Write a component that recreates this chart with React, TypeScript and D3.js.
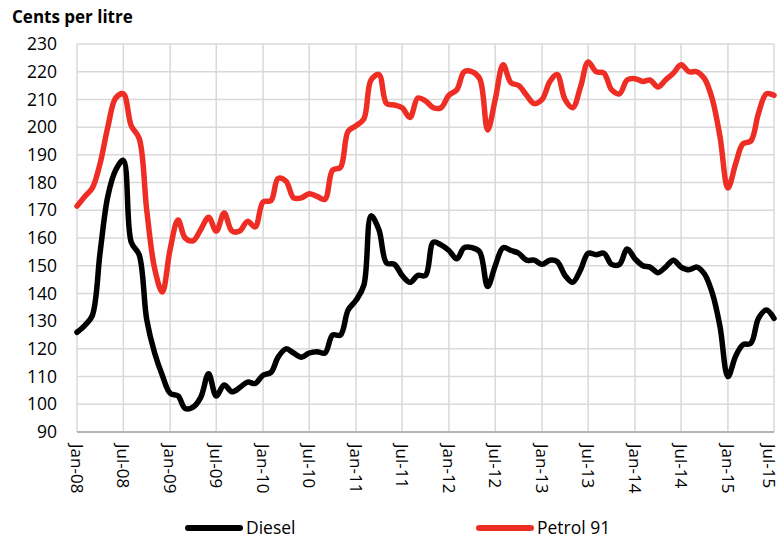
import React, { useEffect, useRef } from "react";
import * as d3 from "d3";

// monthly averages, Jan-08 .. Jul-15 (cents per litre)
const diesel = [
  126, 128.5, 132, 155, 175, 184.5, 188, 158.5, 154, 130.5, 118.5, 110.5,
  104, 103, 98.5, 99, 102.5, 111, 103, 107, 104.5, 106, 108, 107.5,
  110.5, 111.5, 117, 120, 118.5, 117, 118.5, 119, 118.5, 125, 125, 134,
  137.5, 143, 168, 163, 151, 150.5, 146.5, 144, 146.5, 146.5, 158.5, 157.5,
  155.5, 152.5, 156.5, 156.5, 155, 142.5, 150, 156.5, 155.5, 154.5, 152, 152,
  150.5, 152, 151.5, 146.5, 144, 148.5, 154.5, 154, 154.5, 150.5, 150.5, 156,
  152.5, 150, 149.5, 147.5, 149.5, 152, 149.5, 148.5, 149.5, 147, 140, 128,
  110, 117.5, 121.5, 122, 131, 134, 131
];
const petrol91 = [
  171.5, 175, 178, 187, 200, 210.5, 212, 200.5, 196, 170, 149, 140.5,
  156, 166.5, 160, 159, 163, 167.5, 162.5, 169, 162.5, 162.5, 166, 164,
  173, 173.5, 181.5, 180.5, 174.5, 174.5, 176, 175, 174, 184.5, 185.5, 198.5,
  200.5, 203, 217, 219, 208.5, 208, 207, 203.5, 210.5, 209.5, 207, 207,
  211.5, 213.5, 220, 220, 217.5, 199, 210, 222.5, 216, 215, 211.5, 208.5,
  210, 216.5, 219, 210, 207, 214.5, 223.5, 220, 219.5, 213.5, 212, 217,
  217.5, 216.5, 217, 214.5, 217, 219.5, 222.5, 220, 220, 217.5, 210, 196.5,
  178, 187, 194, 195, 205, 212, 211.5
];
const xTickLabels = [
  "Jan-08", "Jul-08", "Jan-09", "Jul-09", "Jan-10", "Jul-10", "Jan-11", "Jul-11",
  "Jan-12", "Jul-12", "Jan-13", "Jul-13", "Jan-14", "Jul-14", "Jan-15", "Jul-15"
];
const yTicks = [90, 100, 110, 120, 130, 140, 150, 160, 170, 180, 190, 200, 210, 220, 230];
const seriesNames = ["Diesel", "Petrol 91"];
const seriesColors = ["#000000", "#ee2e24"];

const months = d3.timeMonth.range(new Date(2008, 0, 1), new Date(2015, 7, 1));

export default function App() {
  const svgRef = useRef<SVGSVGElement>(null);

  useEffect(() => {
    const width = 781, height = 539;
    const margin = { top: 44, right: 7, bottom: 107, left: 77 };
    const svg = d3.select(svgRef.current);
    svg.selectAll("*").remove();
    const font = "'Open Sans', sans-serif";

    const x = d3.scaleTime()
      .domain([months[0], months[months.length - 1]])
      .range([margin.left, width - margin.right]);
    const y = d3.scaleLinear()
      .domain([90, 230])
      .range([height - margin.bottom, margin.top]);

    const tickDates = xTickLabels.map((_, i) => months[i * 6]);

    // gridlines
    svg.append("g").selectAll("line")
      .data(yTicks)
      .join("line")
      .attr("x1", margin.left).attr("x2", width - margin.right)
      .attr("y1", d => y(d)).attr("y2", d => y(d))
      .attr("stroke", "#d9d9d9").attr("stroke-width", 1.5);
    svg.append("g").selectAll("line")
      .data(tickDates)
      .join("line")
      .attr("x1", d => x(d)).attr("x2", d => x(d))
      .attr("y1", margin.top).attr("y2", height - margin.bottom)
      .attr("stroke", "#d9d9d9").attr("stroke-width", 1.5);
    // bottom axis line
    svg.append("line")
      .attr("x1", margin.left).attr("x2", width - margin.right)
      .attr("y1", y(90)).attr("y2", y(90))
      .attr("stroke", "#a6a6a6").attr("stroke-width", 1.5);

    // y labels
    svg.append("g").selectAll("text")
      .data(yTicks)
      .join("text")
      .attr("x", 57)
      .attr("y", d => y(d))
      .attr("dy", "0.35em")
      .attr("text-anchor", "end")
      .style("font-family", font)
      .style("font-size", "17.5px")
      .attr("fill", "#000")
      .text(d => d);

    // x labels, rotated (last one nudged in so it stays on the page)
    svg.append("g").selectAll("text")
      .data(tickDates)
      .join("text")
      .attr("transform", d => `translate(${Math.min(x(d), 769)},444) rotate(90)`)
      .attr("dy", "0.35em")
      .attr("text-anchor", "start")
      .style("font-family", font)
      .style("font-size", "17px")
      .attr("fill", "#000")
      .text((_, i) => xTickLabels[i]);

    // title
    svg.append("text")
      .attr("x", 12).attr("y", 23)
      .style("font-family", font)
      .style("font-size", "17px")
      .style("font-weight", "bold")
      .text("Cents per litre");

    const line = d3.line<number>()
      .x((_, i) => x(months[i]))
      .y(d => y(d))
      .curve(d3.curveCatmullRom.alpha(0.5));

    [diesel, petrol91].forEach((data, k) => {
      svg.append("path")
        .datum(data)
        .attr("d", line)
        .attr("fill", "none")
        .attr("stroke", seriesColors[k])
        .attr("stroke-width", 5.5)
        .attr("stroke-linejoin", "round")
        .attr("stroke-linecap", "round");
    });

    // legend
    const legendX = [188, 479];
    const legend = svg.append("g").selectAll("g")
      .data(seriesNames)
      .join("g")
      .attr("transform", (_, i) => `translate(${legendX[i]},528)`);
    legend.append("line")
      .attr("x1", 0).attr("x2", 52)
      .attr("stroke", (_, i) => seriesColors[i])
      .attr("stroke-width", 6)
      .attr("stroke-linecap", "round");
    legend.append("text")
      .attr("x", 58)
      .attr("dy", "0.35em")
      .style("font-family", font)
      .style("font-size", "17.5px")
      .text(d => d);
  }, []);

  return (
    <svg ref={svgRef} width={781} height={539}
      style={{ position: "absolute", left: 0, top: 0, background: "#fff" }}></svg>
  );
}
